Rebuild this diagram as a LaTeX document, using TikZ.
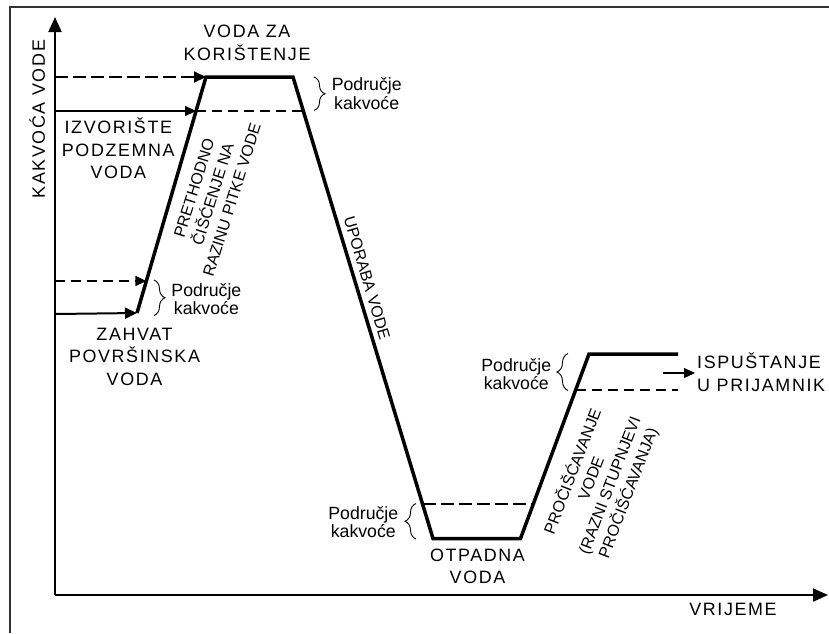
\documentclass[tikz,border=0pt]{standalone}
\usepackage{fontspec}
\setmainfont{Liberation Sans}
\newfontfamily\capsf[LetterSpace=9]{Liberation Sans}
\usetikzlibrary{arrows.meta,decorations.pathreplacing,calc}
\begin{document}
\begin{tikzpicture}[x=1pt,y=-1pt,
  bigcap/.style={font=\capsf\fontsize{17.9}{22.8}\selectfont, align=center, inner sep=0pt},
  smalltxt/.style={font=\fontsize{17.7}{18.2}\selectfont, align=center, inner sep=0pt},
  rottxt/.style={font=\fontsize{16}{19.8}\selectfont, align=center, inner sep=0pt},
  curve/.style={line width=3.5pt, line join=miter},
  axis/.style={line width=2pt, -{Triangle[length=15pt,width=13pt]}},
  dashthick/.style={line width=2pt, dash pattern=on 13pt off 5pt},
  dashthin/.style={line width=1.2pt, dash pattern=on 10pt off 6pt},
  tipthick/.style={-{Triangle[length=12pt,width=11pt]}},
  tipthin/.style={-{Triangle[length=11pt,width=10pt]}},
  bracestyle/.style={decorate, decoration={brace, amplitude=11pt}, line width=0.9pt},
]
\useasboundingbox (0,0) rectangle (829,633);
% frame
\draw[line width=2pt, black!80] (10,633) -- (10,7) -- (829,7);

% axes
\coordinate (O) at (55,595);
\coordinate (ytop) at (55,17);
\coordinate (xend) at (828,595);
\draw[axis] (O) -- (ytop);
\draw[axis] (O) -- (xend);

% curve corners
\coordinate (A) at (137,313);
\coordinate (B) at (206,77);
\coordinate (C) at (293,77);
\coordinate (D) at (433,538.5);
\coordinate (E) at (520.5,538.5);
\coordinate (F) at (589,354);
\coordinate (G) at (678,354);
\draw[curve] (A) -- (B) -- (C) -- (D) -- (E) -- (F) -- (G);

% left arrows
\coordinate (l1) at (55,77);
\coordinate (l2) at (55,111);
\coordinate (l3) at (55,281);
\coordinate (l4) at (55,314);
\coordinate (p2) at (196.1,111);
\coordinate (q2) at (303.3,111);
\coordinate (p3) at (146.4,281);
\draw[dashthick, tipthick] (l1) -- (B);
\draw[line width=1.3pt, tipthin] (l2) -- (p2);
\draw[dashthin] (p2) -- (q2);
\draw[dashthin, tipthin] (l3) -- (p3);
\draw[line width=2pt, tipthick] (l4) -- (A);

% bottom dashed
\coordinate (b1) at (422.5,504);
\coordinate (b2) at (533.3,504);
\draw[dashthick] (b1) -- (b2);

% right dashed and arrow
\coordinate (r1) at (575.6,390);
\coordinate (r2) at (678,390);
\draw[dashthin] (r1) -- (r2);
\coordinate (s1) at (663,373);
\coordinate (s2) at (695,373);
\draw[line width=1.2pt, tipthin] (s1) -- (s2);

% braces
\draw[bracestyle] (314,77) -- (314,110.5);
\draw[bracestyle] (154,280) -- (154,315.5);
\draw[bracestyle] (416,539) -- (416,503.5);
\draw[bracestyle] (568,390.5) -- (568,353.5);

% texts
\node[bigcap, rotate=90] (ylab) at (37.3,119.2) {KAKVOĆA VODE};
\node[bigcap, anchor=base] (xlab) at (733,615) {VRIJEME};
\node[bigcap] (koris) at (247,42.5) {VODA ZA\\KORIŠTENJE};
\node[bigcap] (izvor) at (118.3,148.3) {IZVORIŠTE\\PODZEMNA\\VODA};
\node[bigcap] (zahvat) at (134.5,356.9) {ZAHVAT\\POVRŠINSKA\\VODA};
\node[bigcap] (otpad) at (477.5,566.3) {OTPADNA\\VODA};
\node[bigcap, align=left, anchor=west] (ispust) at (697,372) {ISPUŠTANJE\\U PRIJAMNIK};

\node[smalltxt] (pk1) at (366.7,93.6) {Područje\\kakvoće};
\node[smalltxt] (pk2) at (206.4,298.8) {Područje\\kakvoće};
\node[smalltxt] (pk3) at (363.3,522) {Područje\\kakvoće};
\node[smalltxt] (pk4) at (516.3,374) {Područje\\kakvoće};

\node[rottxt, rotate=72.5] (preth) at (213,194) {PRETHODNO\\ČIŠĆENJE NA\\RAZINU PITKE VODE};
\node[rottxt, rotate=-73.5] (upor) at (367,278) {UPORABA VODE};
\node[rottxt, rotate=69] (proc) at (600.5,482) {PROČIŠĆAVANJE\\VODE\\(RAZNI STUPNJEVI\\PROČIŠĆAVANJA)};
\end{tikzpicture}
\end{document}
